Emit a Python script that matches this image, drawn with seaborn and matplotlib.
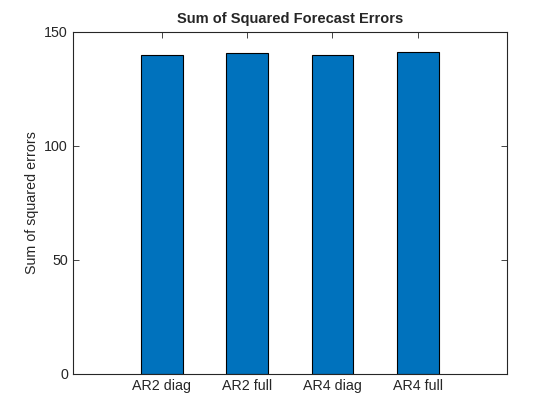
import matplotlib
matplotlib.use("Agg")
import matplotlib.pyplot as plt
import seaborn as sns
import pandas as pd

models = ["AR2 diag", "AR2 full", "AR4 diag", "AR4 full"]
sse = [139.9, 140.4, 139.9, 140.8]

sns.set_style("white")
plt.rcParams["font.family"] = ["Liberation Sans", "DejaVu Sans"]

df = pd.DataFrame({"model": models, "sse": sse})

fig = plt.figure(figsize=(5.6, 4.2), dpi=100)
ax = fig.add_axes([0.130, 0.110, 0.775, 0.815])
sns.barplot(data=df, x="model", y="sse", color="#0072BD", saturation=1,
            width=0.49, edgecolor="black", linewidth=0.8, ax=ax)

ax.set_xlim(-1.045, 4.045)
ax.set_ylim(0, 150)
ax.set_yticks([0, 50, 100, 150])
ax.set_xlabel("")
ax.set_ylabel("Sum of squared errors", fontsize=10.3, color="#262626")
ax.set_title("Sum of Squared Forecast Errors", fontsize=10.5, fontweight="bold")
ax.tick_params(direction="in", length=4, width=0.6, top=True, right=True,
               labelsize=10.3, colors="#262626", bottom=True, left=True)
for s in ax.spines.values():
    s.set_color("#262626")
    s.set_linewidth(0.8)
    s.set_visible(True)

fig.savefig("out.png", dpi=100)
